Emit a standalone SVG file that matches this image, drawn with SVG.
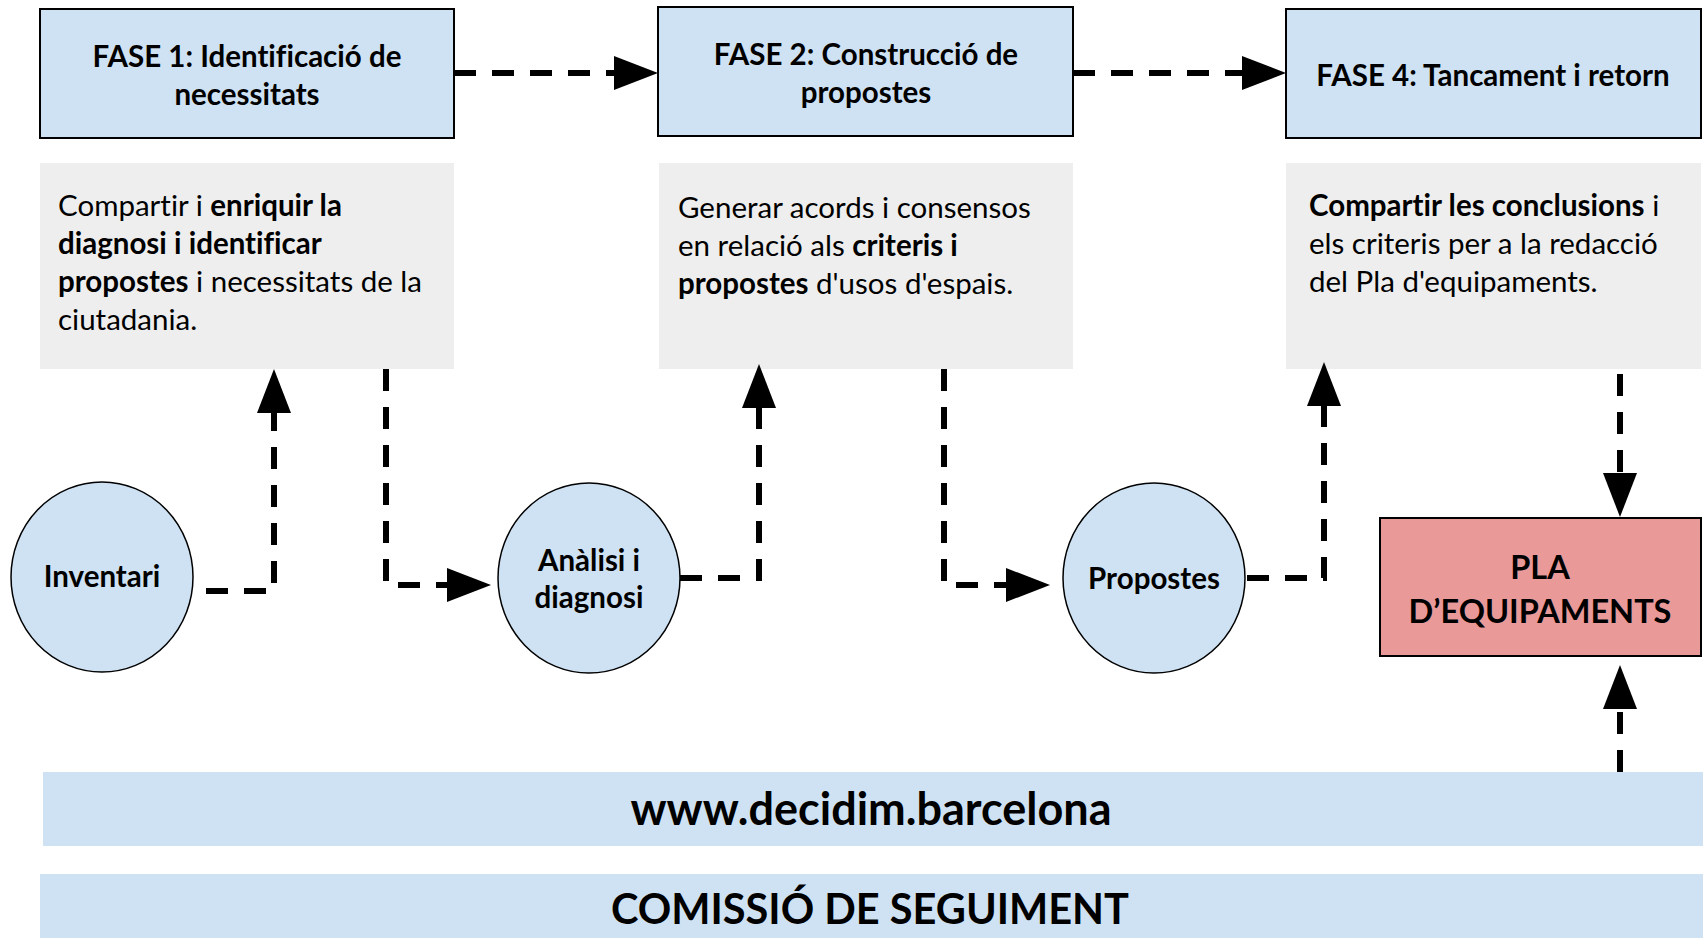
<svg xmlns="http://www.w3.org/2000/svg" width="1703" height="938" viewBox="0 0 1703 938">
<style>
.phase{fill:#CFE2F3;stroke:#000;stroke-width:2}
.desc{fill:#EEEEEE}
.circ{fill:#CFE2F3;stroke:#000;stroke-width:1.5}
.pla{fill:#EA9999;stroke:#000;stroke-width:2}
.band{fill:#CFE2F3}
text{font-family:Lato,"Liberation Sans",sans-serif;fill:#000;font-variant-ligatures:none}
.h{font-size:29.5px;font-weight:bold;text-anchor:middle}
.b{font-size:29.5px}
.b tspan.bo{font-weight:bold}
.c{font-size:29.5px;font-weight:bold;text-anchor:middle}
.conn{fill:none;stroke:#000;stroke-width:6;stroke-dasharray:22 16}
</style>
<defs>
<marker id="ah" markerUnits="userSpaceOnUse" markerWidth="44" markerHeight="34" refX="0" refY="17" orient="auto">
<path d="M0,0 L44,17 L0,34 z" fill="#000"/>
</marker>
</defs>
<rect width="1703" height="938" fill="#fff"/>
<g id="fase1">
<rect class="phase" x="40" y="9" width="414" height="129"/>
<text class="h" x="247" y="67">FASE 1: Identificació de</text>
<text class="h" x="247" y="105">necessitats</text>
</g>
<g id="fase2">
<rect class="phase" x="658" y="7" width="415" height="129"/>
<text class="h" x="866" y="65">FASE 2: Construcció de</text>
<text class="h" x="866" y="103">propostes</text>
</g>
<g id="fase4">
<rect class="phase" x="1286" y="9" width="415" height="129"/>
<text class="h" x="1493" y="86">FASE 4: Tancament i retorn</text>
</g>
<g id="desc1">
<rect class="desc" x="40" y="163" width="414" height="206"/>
<text class="b" x="58" y="216">Compartir i <tspan class="bo">enriquir la</tspan></text>
<text class="b" x="58" y="254"><tspan class="bo">diagnosi i identificar</tspan></text>
<text class="b" x="58" y="292"><tspan class="bo">propostes</tspan> i necessitats de la</text>
<text class="b" x="58" y="330">ciutadania.</text>
</g>
<g id="desc2">
<rect class="desc" x="659" y="163" width="414" height="206"/>
<text class="b" x="678" y="218">Generar acords i consensos</text>
<text class="b" x="678" y="256">en relació als <tspan class="bo">criteris i</tspan></text>
<text class="b" x="678" y="294"><tspan class="bo">propostes</tspan> d'usos d'espais.</text>
</g>
<g id="desc4">
<rect class="desc" x="1286" y="163" width="415" height="206"/>
<text class="b" x="1309" y="216"><tspan class="bo">Compartir les conclusions</tspan> i</text>
<text class="b" x="1309" y="254">els criteris per a la redacció</text>
<text class="b" x="1309" y="292">del Pla d'equipaments.</text>
</g>
<g id="inventari">
<ellipse class="circ" cx="102" cy="577" rx="91" ry="95"/>
<text class="c" x="102" y="587">Inventari</text>
</g>
<g id="analisi">
<ellipse class="circ" cx="589" cy="578" rx="91" ry="95"/>
<text class="c" x="589" y="571">Anàlisi i</text>
<text class="c" x="589" y="608">diagnosi</text>
</g>
<g id="propostes">
<ellipse class="circ" cx="1154" cy="578" rx="91" ry="95"/>
<text class="c" x="1154" y="589">Propostes</text>
</g>
<g id="pla">
<rect class="pla" x="1380" y="518" width="321" height="138"/>
<text class="c" x="1540" y="579" style="font-size:32.5px">PLA</text>
<text class="c" x="1540" y="623" style="font-size:32.5px">D’EQUIPAMENTS</text>
</g>
<g id="decidim">
<rect class="band" x="43" y="772" width="1660" height="74"/>
<text x="871" y="825" style="font-size:45px;font-weight:bold;text-anchor:middle">www.decidim.barcelona</text>
</g>
<g id="comissio">
<rect class="band" x="40" y="874" width="1663" height="64"/>
<text x="870" y="924" style="font-size:41.5px;font-weight:bold;text-anchor:middle">COMISSIÓ DE SEGUIMENT</text>
</g>
<g id="connectors">
<path class="conn" d="M454,73 H614" marker-end="url(#ah)"/>
<path class="conn" d="M1073,73 H1242" marker-end="url(#ah)"/>
<path class="conn" d="M206,591 H274 V413" marker-end="url(#ah)"/>
<path class="conn" d="M386,369 V585 H447" marker-end="url(#ah)"/>
<path class="conn" d="M680,578 H759 V408" marker-end="url(#ah)"/>
<path class="conn" d="M944,369 V585 H1006" marker-end="url(#ah)"/>
<path class="conn" d="M1247,578 H1324 V406" marker-end="url(#ah)"/>
<path class="conn" d="M1620,374 V473" marker-end="url(#ah)"/>
<path class="conn" d="M1620,772 V709" marker-end="url(#ah)"/>
</g>
</svg>
